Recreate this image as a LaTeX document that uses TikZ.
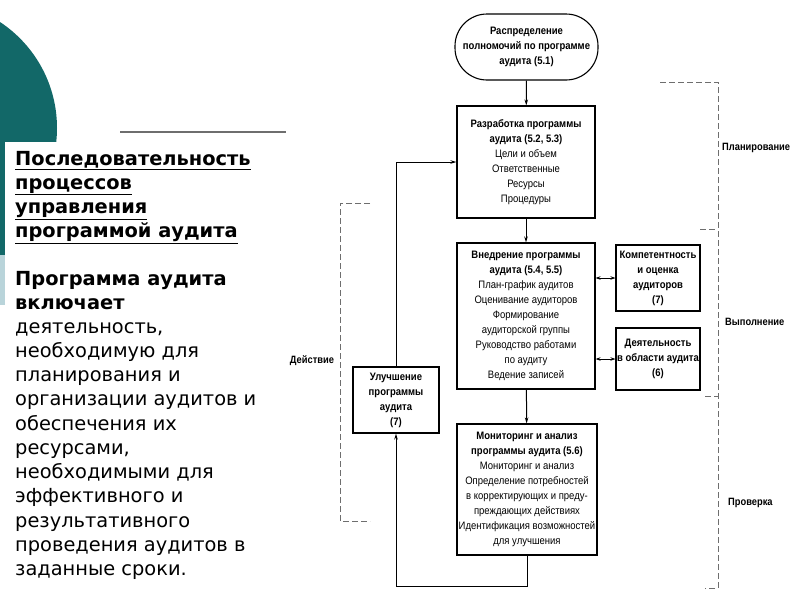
\documentclass[tikz,border=0pt]{standalone}
\usepackage{fontspec}
\setmainfont{DejaVu Sans}
\newfontfamily\boxfont[FakeStretch=0.88]{Liberation Sans}
\usetikzlibrary{arrows.meta}
\usetikzlibrary{positioning}
\definecolor{morskoj}{RGB}{18,104,104}
\definecolor{svetlyj}{RGB}{185,212,218}
\definecolor{shtrih}{RGB}{110,110,110}

\begin{document}
\begin{tikzpicture}[x=1pt,y=-1pt,
  blok/.style={draw,line width=1.1pt,align=center,inner sep=0pt,font=\boxfont\fontsize{10.8}{15}\selectfont},
  strelka/.style={line width=1pt,-{Stealth[length=6pt,width=3.5pt]}},
  dvoinaya/.style={line width=1pt,{Stealth[length=5pt,width=3.5pt]}-{Stealth[length=5pt,width=3.5pt]}},
  skobka/.style={draw=shtrih,line width=0.8pt,dash pattern=on 6pt off 3pt},
  metka/.style={inner sep=0pt,font=\boxfont\bfseries\fontsize{10.6}{12}\selectfont},
  tekst/.style={anchor=base west,inner sep=0pt,font=\fontsize{19.4}{24}\selectfont},
  zhirnyj/.style={tekst,font=\bfseries\fontsize{19.4}{24}\selectfont}]

\clip (0,0) rectangle (800,600);
\fill[white] (0,0) rectangle (800,600);

\begin{scope}
\clip (0,0) rectangle (60,141);
\fill[morskoj] (-70,128) circle (127);
\end{scope}
\fill[morskoj] (0,141) rectangle (5,255);
\fill[svetlyj] (0,255) rectangle (5,305);

\draw[shtrih,line width=1.5pt] (120,132) -- (286,132);

\foreach \stroka [count=\i from 0] in {Последовательность,процессов,управления,программой аудита}
{
	\node[zhirnyj] (zag\i) at (15,165+24.2*\i) {\underline{\stroka}};
}

\node[zhirnyj] (vkl1) at (15,285) {Программа аудита};
\node[zhirnyj] (vkl2) at (15,309) {включает};

\foreach \stroka [count=\i from 0] in {{деятельность,},необходимую для,планирования и,организации аудитов и,обеспечения их,{ресурсами,},необходимыми для,эффективного и,результативного,проведения аудитов в,заданные сроки.}
{
	\node[tekst] (t\i) at (15,333+24.25*\i) {\stroka};
}

\node[blok,rounded corners=32pt,minimum width=143pt,minimum height=66pt] (raspr) at (526.5,47)
	{\bfseries Распределение\\\bfseries полномочий по программе\\\bfseries аудита (5.1)};

\node[blok,minimum width=138pt,minimum height=112pt] (razrab) at (526,162)
	{\bfseries Разработка программы\\\bfseries аудита (5.2, 5.3)\\Цели и объем\\Ответственные\\Ресурсы\\Процедуры};

\node[blok,minimum width=138pt,minimum height=146pt] (vnedr) at (526,316)
	{\bfseries Внедрение программы\\\bfseries аудита (5.4, 5.5)\\План-график аудитов\\Оценивание аудиторов\\Формирование\\аудиторской группы\\Руководство работами\\по аудиту\\Ведение записей};

\node[blok,minimum width=140pt,minimum height=131pt] (monit) at (527,489.5)
	{\bfseries Мониторинг и анализ\\\bfseries программы аудита (5.6)\\Мониторинг и анализ\\Определение потребностей\\в корректирующих и преду-\\преждающих действиях\\Идентификация возможностей\\для улучшения};

\node[blok,minimum width=84pt,minimum height=66pt] (komp) at (658,278)
	{\bfseries Компетентность\\\bfseries и оценка\\\bfseries аудиторов\\\bfseries (7)};

\node[blok,minimum width=84pt,minimum height=62pt] (deyat) at (658,359)
	{\bfseries Деятельность\\\bfseries в области аудита\\\bfseries (6)};

\node[blok,minimum width=86pt,minimum height=66pt] (uluch) at (396,400)
	{\bfseries Улучшение\\\bfseries программы\\\bfseries аудита\\\bfseries (7)};

\coordinate (niz) at (527,586);

\draw[strelka] (raspr) -- (razrab);
\draw[strelka] (razrab) -- (vnedr);
\draw[strelka] (vnedr) -- (monit);
\draw[dvoinaya] (vnedr.east |- komp) -- (komp.west);
\draw[dvoinaya] (vnedr.east |- deyat) -- (deyat.west);
\draw[strelka] (uluch.north) |- (razrab.west);
\draw[strelka] (monit.south) -- (monit.south |- niz) -| (uluch.south);

\draw[skobka] (370,203) -- (340,203) -- (340,521) -- (370,521);
\node[metka] (dejstvie) at (312,361) {Действие};

\draw[skobka] (660,82) -- (718,82) -- (718,588) -- (705,588);
\draw[skobka] (700,229) -- (718,229);
\draw[skobka] (705,396) -- (718,396);
\node[metka,anchor=west] (plan) at (722,148) {Планирование};
\node[metka,anchor=west] (vypol) at (725,322) {Выполнение};
\node[metka,anchor=west] (prov) at (728,503) {Проверка};

\end{tikzpicture}
\end{document}
